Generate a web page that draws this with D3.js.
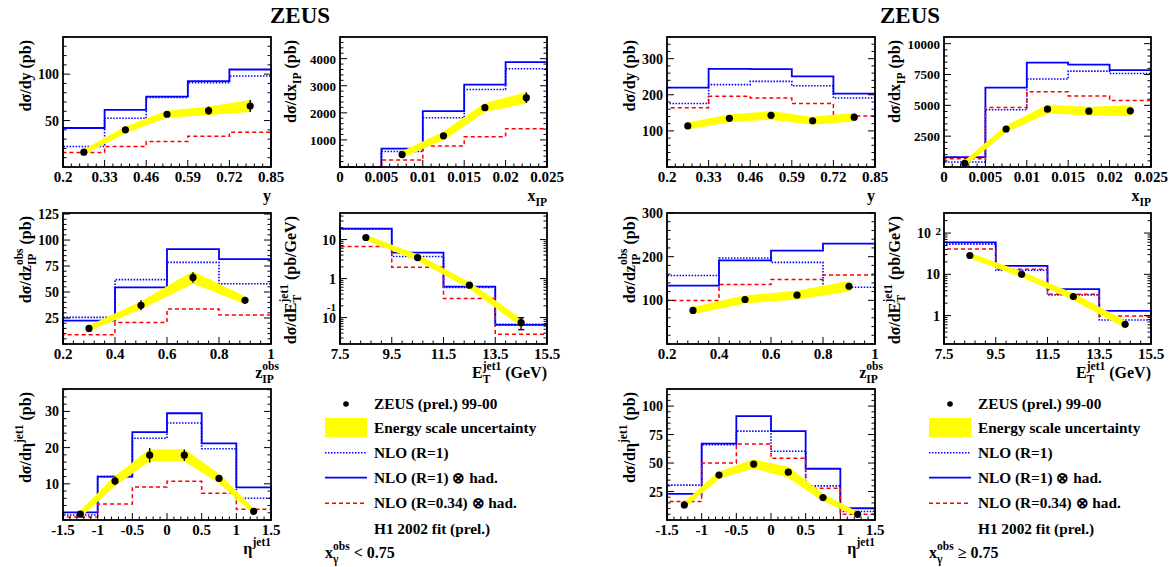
<!DOCTYPE html>
<html>
<head>
<meta charset="utf-8">
<script src="https://cdn.jsdelivr.net/npm/d3@7"></script>
<style>
  body { margin: 0; background: #fff; }
  svg text { font-family: "Liberation Serif", "Times New Roman", serif; font-weight: bold; fill: #000; }
</style>
</head>
<body>
<svg id="chart" width="1174" height="567"></svg>
<script>
// ---- bin edges, point positions, tick labels ----
const yEdges   = [0.2, 0.33, 0.46, 0.59, 0.72, 0.85];
const yCentres = [0.265, 0.395, 0.525, 0.655, 0.785];
const xpEdges  = [0, 0.005, 0.01, 0.015, 0.02, 0.025];
const loXpCentres = [0.0075, 0.0125, 0.0175, 0.0225];
const hiXpCentres = [0.0025, 0.0075, 0.0125, 0.0175, 0.0225];
const zpEdges  = [0.2, 0.4, 0.6, 0.8, 1.0];
const zpCentres = [0.3, 0.5, 0.7, 0.9];
const etEdges  = [7.5, 9.5, 11.5, 13.5, 15.5];
const etCentres = [8.5, 10.5, 12.5, 14.5];
const etaEdges = [-1.5, -1, -0.5, 0, 0.5, 1, 1.5];
const etaCentres = [-1.25, -0.75, -0.25, 0.25, 0.75, 1.25];

const yTicks   = [0.2, 0.33, 0.46, 0.59, 0.72, 0.85];
const xpTicks  = [0, 0.005, 0.01, 0.015, 0.02, 0.025];
const zpTicks  = [0.2, 0.4, 0.6, 0.8, 1];
const etTicks  = [7.5, 9.5, 11.5, 13.5, 15.5];
const etaTicks = [-1.5, -1, -0.5, 0, 0.5, 1, 1.5];

// ---- x_gamma^obs < 0.75 ----
const loY_nlo  = [22, 52.5, 75, 90.7, 98];
const loY_had  = [42, 61.5, 75.7, 92.5, 105];
const loY_r034 = [15.7, 22, 27.5, 33, 37.5];
const loY_data = [16, 40, 56.8, 60.7, 65.7];
const loY_stat = [1, 1.5, 2, 4.5, 6.5];
const loY_esc  = [1, 1.5, 2, 2.7, 4.5];

const loXp_nlo  = [0, 570, 1820, 2860, 3630];
const loXp_had  = [0, 680, 2065, 3040, 3875];
const loXp_r034 = [0, 255, 780, 1120, 1415];
const loXp_data = [460, 1150, 2190, 2560];
const loXp_stat = [40, 60, 80, 200];
const loXp_esc  = [50, 80, 100, 140];

const loZp_nlo  = [25.6, 61.9, 78.5, 58];
const loZp_had  = [22.4, 54.5, 91.3, 81.7];
const loZp_r034 = [9, 20.8, 33.7, 27.9];
const loZp_data = [15, 37.2, 64, 42];
const loZp_stat = [1.5, 4.8, 5, 2];
const loZp_esc  = [1, 2, 4, 2];

const loEt_nlo  = [18.4, 3.67, 0.59, 0.067];
const loEt_had  = [19.1, 4.6, 0.62, 0.065];
const loEt_r034 = [6.6, 1.95, 0.307, 0.0375];
const loEt_data = [11.3, 3.45, 0.675, 0.074];
const loEt_stat = [0.5, 0.2, 0.05, 0.025];
const loEt_esc  = [0.6, 0.25, 0.05, 0.008];

const loEta_nlo  = [1.4, 12, 22.6, 26.8, 19.7, 6.0];
const loEta_had  = [2.1, 12, 24.3, 29.5, 21.2, 9.0];
const loEta_r034 = [0.8, 4.4, 9.1, 10.7, 7.4, 3.0];
const loEta_data = [1.6, 10.8, 17.9, 17.9, 11.5, 2.4];
const loEta_stat = [0.3, 1.2, 2, 1.6, 0.8, 0.3];
const loEta_esc  = [0.3, 0.8, 1.1, 1.2, 0.7, 0.2];

// ---- x_gamma^obs >= 0.75 ----
const hiY_nlo  = [175.8, 228, 237, 225, 191];
const hiY_had  = [220, 272, 271, 251, 203];
const hiY_r034 = [164, 196, 191, 176, 141];
const hiY_data = [113.7, 134.7, 143, 128, 138];
const hiY_stat = [3, 4, 4, 4, 5];
const hiY_esc  = [5, 6, 7, 6, 7];

const hiXp_nlo  = [402, 4636, 7129, 7772, 7584];
const hiXp_had  = [804, 6432, 8469, 8308, 7852];
const hiXp_r034 = [670, 4824, 6110, 5762, 5387];
const hiXp_data = [295, 3082, 4690, 4529, 4556];
const hiXp_stat = [40, 100, 150, 150, 200];
const hiXp_esc  = [60, 120, 200, 215, 290];

const hiZp_nlo  = [156.7, 197, 187, 130];
const hiZp_had  = [133.8, 191.6, 213.7, 229.7];
const hiZp_r034 = [99.6, 136, 147.5, 158];
const hiZp_data = [76.8, 101.9, 111.8, 132.3];
const hiZp_stat = [3, 4, 4, 5];
const hiZp_esc  = [4, 5, 6, 8];

const hiEt_nlo  = [54, 12.5, 3.18, 0.785];
const hiEt_had  = [59.3, 16.1, 4.36, 1.3];
const hiEt_r034 = [41, 13.3, 3.3, 0.98];
const hiEt_data = [28.6, 10, 2.9, 0.616];
const hiEt_stat = [1, 0.4, 0.15, 0.05];
const hiEt_esc  = [1.2, 0.6, 0.25, 0.06];

const hiEta_nlo  = [30.6, 66.2, 78, 60.3, 30, 7.4];
const hiEta_had  = [22.9, 67, 91.2, 78, 45, 10.3];
const hiEta_r034 = [16.2, 50, 66.8, 54.1, 27.9, 5];
const hiEta_data = [13.2, 39.4, 49.1, 42, 19.7, 5];
const hiEta_stat = [1, 1.5, 2, 2, 1, 0.5];
const hiEta_esc  = [0.7, 1.5, 2.5, 3.2, 1.5, 0.5];

const legendLabels = ["ZEUS (prel.) 99-00", "Energy scale uncertainty", "NLO (R=1)",
                      "NLO (R=1) \u2297 had.", "NLO (R=0.34) \u2297 had.", "H1 2002 fit (prel.)"];

// ---- layout ----
const svg = d3.select("#chart");
const colX = [[63, 271], [340, 547]];
const rowY = [[37, 167], [213, 344], [389, 520]];
const panelDx = [0, 604];
const BLUE = "#0000ff", RED = "#ff0000", YELLOW = "#ffff00";

// text with sub/superscripts, parts = [[base, sub, sup], ...]
function rich(parent, x, y, parts, fs, anchor, rotate) {
  const t = parent.append("text").attr("font-size", fs).attr("text-anchor", anchor || "start");
  if (rotate) t.attr("transform", `translate(${x},${y}) rotate(-90)`);
  else t.attr("x", x).attr("y", y);
  let cur = 0, pend = 0;
  const seg = (s, shift, size) => {
    const ts = t.append("tspan").attr("font-size", size).attr("dy", shift - cur).text(s);
    if (pend) { ts.attr("dx", pend); pend = 0; }
    cur = shift;
    return ts;
  };
  parts.forEach(([b, sub, sup]) => {
    if (b) seg(b, 0, fs);
    let sl = 0;
    if (sub) { sl = seg(sub, fs * 0.3, fs * 0.72).node().getComputedTextLength(); }
    if (sup) {
      const s = seg(sup, -fs * 0.5, fs * 0.72);
      if (sub) {
        s.attr("dx", -sl);
        const ul = s.node().getComputedTextLength();
        if (ul < sl) pend = sl - ul;
      }
    }
  });
  return t;
}

function histPath(x, y, edges, vals, ymin) {
  const pts = [[edges[0], ymin]];
  vals.forEach((v, i) => { pts.push([edges[i], v]); pts.push([edges[i + 1], v]); });
  pts.push([edges[edges.length - 1], ymin]);
  return d3.line().x(d => x(d[0])).y(d => y(Math.max(d[1], ymin)))(pts);
}

function drawPlot(p, dx) {
  const [x0, x1] = colX[p.col].map(v => v + dx);
  const [y0, y1] = rowY[p.row];
  const x = d3.scaleLinear().domain(p.xDom).range([x0, x1]);
  const y = (p.log ? d3.scaleLog() : d3.scaleLinear()).domain(p.yDom).range([y1, y0]);
  const g = svg.append("g");
  const ymin = p.yDom[0];

  // theory histograms
  g.append("path").attr("d", histPath(x, y, p.edges, p.nlo, ymin))
    .attr("fill", "none").attr("stroke", BLUE).attr("stroke-width", 1.6).attr("stroke-dasharray", "1.5,1.5");
  g.append("path").attr("d", histPath(x, y, p.edges, p.had, ymin))
    .attr("fill", "none").attr("stroke", BLUE).attr("stroke-width", 1.8);
  g.append("path").attr("d", histPath(x, y, p.edges, p.r034, ymin))
    .attr("fill", "none").attr("stroke", RED).attr("stroke-width", 1.5).attr("stroke-dasharray", "4,3");

  // energy scale band
  const pts = p.data.map((v, i) => ({ x: p.centres[i], v, e: p.esc[i] }));
  g.append("path").datum(pts)
    .attr("d", d3.area().x(d => x(d.x)).y0(d => y(d.v - d.e)).y1(d => y(d.v + d.e)))
    .attr("fill", YELLOW).attr("stroke", YELLOW).attr("stroke-width", 3.5).attr("stroke-linejoin", "round");

  // data points with stat errors
  pts.forEach((d, i) => {
    const s = p.stat[i];
    g.append("line").attr("x1", x(d.x)).attr("x2", x(d.x))
      .attr("y1", y(d.v - s)).attr("y2", y(d.v + s)).attr("stroke", "#000").attr("stroke-width", 1.4);
    if (p.caps) {
      [d.v - s, d.v + s].forEach(e => g.append("line").attr("x1", x(d.x) - 3).attr("x2", x(d.x) + 3)
        .attr("y1", y(e)).attr("y2", y(e)).attr("stroke", "#000").attr("stroke-width", 1.4));
    }
    g.append("circle").attr("cx", x(d.x)).attr("cy", y(d.v)).attr("r", 3.6).attr("fill", "#000");
  });

  // ticks
  const tk = g.append("g").attr("stroke", "#000").attr("stroke-width", 1);
  const yMinor = p.log
    ? d3.range(Math.floor(Math.log10(p.yDom[0])), Math.ceil(Math.log10(p.yDom[1])))
        .flatMap(e => d3.range(1, 10).map(m => m * Math.pow(10, e)))
        .filter(v => v >= p.yDom[0] && v <= p.yDom[1])
    : d3.range(0, p.yDom[1] + 1e-9, p.yMinor);
  yMinor.forEach(v => {
    const major = p.yTicks.some(t => Math.abs(t - v) < 1e-9 * Math.max(1, v));
    const len = major ? 7 : 3.5;
    tk.append("line").attr("x1", x0).attr("x2", x0 + len).attr("y1", y(v)).attr("y2", y(v));
    tk.append("line").attr("x1", x1).attr("x2", x1 - len).attr("y1", y(v)).attr("y2", y(v));
  });
  d3.range(p.xDom[0], p.xDom[1] + 1e-9, p.xMinor).forEach(v => {
    const major = p.xTicks.some(t => Math.abs(t - v) < 1e-9);
    const len = major ? 7 : 3.5;
    tk.append("line").attr("x1", x(v)).attr("x2", x(v)).attr("y1", y1).attr("y2", y1 - len);
  });

  // frame
  g.append("rect").attr("x", x0).attr("y", y0).attr("width", x1 - x0).attr("height", y1 - y0)
    .attr("fill", "none").attr("stroke", "#000").attr("stroke-width", 1.8);

  // tick labels
  p.xTicks.forEach(v => {
    g.append("text").attr("x", x(v)).attr("y", y1 + 15).attr("text-anchor", "middle")
      .attr("font-size", 15).text(String(v));
  });
  p.yTicks.forEach(v => {
    if (p.logLabel) { p.logLabel(g, v, x0, y(v)); return; }
    g.append("text").attr("x", x0 - 4).attr("y", y(v) + 5).attr("text-anchor", "end")
      .attr("font-size", p.yFont || 14).text(String(v));
  });

  // axis titles
  rich(g, x1 + (p.xTitleDx || 0), y1 + 34, p.xTitle, 16, "end");
  rich(g, x0 - (p.col === 0 ? 32 : 44), y0 + 3, p.yTitle, 16, "end", true);
}

// log-axis labels in the ROOT style
function lowLog(g, v, x0, yy) {
  if (v === 0.1) {
    g.append("text").attr("x", x0 - 4).attr("y", yy + 5).attr("text-anchor", "end").attr("font-size", 14).text("10");
    g.append("text").attr("x", x0 - 4).attr("y", yy - 7).attr("text-anchor", "end").attr("font-size", 11).text("-1");
  } else {
    g.append("text").attr("x", x0 - 4).attr("y", yy + 5).attr("text-anchor", "end").attr("font-size", 14).text(String(v));
  }
}
function highLog(g, v, x0, yy) {
  if (v === 100) {
    g.append("text").attr("x", x0 - 13).attr("y", yy + 5).attr("text-anchor", "end").attr("font-size", 14).text("10");
    g.append("text").attr("x", x0 - 3).attr("y", yy + 2).attr("text-anchor", "end").attr("font-size", 11).text("2");
  } else {
    g.append("text").attr("x", x0 - 4).attr("y", yy + 5).attr("text-anchor", "end").attr("font-size", 14).text(String(v));
  }
}

const titleY   = [["d\u03c3/dy (pb)"]];
const titleXp  = [["d\u03c3/dx", "IP"], [" (pb)"]];
const titleZp  = [["d\u03c3/dz", "IP", "obs"], [" (pb)"]];
const titleEt  = [["d\u03c3/dE", "T", "jet1"], [" (pb/GeV)"]];
const titleEta = [["d\u03c3/d\u03b7", null, "jet1"], [" (pb)"]];

const lowPlots = [
  { col: 0, row: 0, xDom: [0.2, 0.85], yDom: [0, 140], edges: yEdges, centres: yCentres,
    nlo: loY_nlo, had: loY_had, r034: loY_r034, data: loY_data, stat: loY_stat, esc: loY_esc,
    xTicks: yTicks, xMinor: 0.026, yTicks: [50, 100], yMinor: 10, xTitle: [["y"]], yTitle: titleY },
  { col: 1, row: 0, xDom: [0, 0.025], yDom: [0, 4800], edges: xpEdges, centres: loXpCentres,
    nlo: loXp_nlo, had: loXp_had, r034: loXp_r034, data: loXp_data, stat: loXp_stat, esc: loXp_esc,
    xTicks: xpTicks, xMinor: 0.001, yTicks: [1000, 2000, 3000, 4000], yMinor: 200, yFont: 13,
    xTitle: [["x", "IP"]], yTitle: titleXp },
  { col: 0, row: 1, xDom: [0.2, 1], yDom: [0, 126], edges: zpEdges, centres: zpCentres,
    nlo: loZp_nlo, had: loZp_had, r034: loZp_r034, data: loZp_data, stat: loZp_stat, esc: loZp_esc,
    xTicks: zpTicks, xMinor: 0.04, yTicks: [25, 50, 75, 100, 125], yMinor: 5,
    xTitle: [["z", "IP", "obs"]], xTitleDx: 8, yTitle: titleZp },
  { col: 1, row: 1, xDom: [7.5, 15.5], yDom: [0.021, 48], log: true, caps: true, edges: etEdges, centres: etCentres,
    nlo: loEt_nlo, had: loEt_had, r034: loEt_r034, data: loEt_data, stat: loEt_stat, esc: loEt_esc,
    xTicks: etTicks, xMinor: 0.4, yTicks: [0.1, 1, 10], logLabel: lowLog,
    xTitle: [["E", "T", "jet1"], ["  (GeV)"]], yTitle: titleEt },
  { col: 0, row: 2, xDom: [-1.5, 1.5], yDom: [0, 36.2], edges: etaEdges, centres: etaCentres,
    nlo: loEta_nlo, had: loEta_had, r034: loEta_r034, data: loEta_data, stat: loEta_stat, esc: loEta_esc,
    xTicks: etaTicks, xMinor: 0.1, yTicks: [10, 20, 30], yMinor: 2,
    xTitle: [["\u03b7", null, "jet1"]], yTitle: titleEta }
];

const highPlots = [
  { col: 0, row: 0, xDom: [0.2, 0.85], yDom: [0, 360], edges: yEdges, centres: yCentres,
    nlo: hiY_nlo, had: hiY_had, r034: hiY_r034, data: hiY_data, stat: hiY_stat, esc: hiY_esc,
    xTicks: yTicks, xMinor: 0.026, yTicks: [100, 200, 300], yMinor: 20, xTitle: [["y"]], yTitle: titleY },
  { col: 1, row: 0, xDom: [0, 0.025], yDom: [0, 10540], edges: xpEdges, centres: hiXpCentres,
    nlo: hiXp_nlo, had: hiXp_had, r034: hiXp_r034, data: hiXp_data, stat: hiXp_stat, esc: hiXp_esc,
    xTicks: xpTicks, xMinor: 0.001, yTicks: [2500, 5000, 7500, 10000], yMinor: 500, yFont: 13,
    xTitle: [["x", "IP"]], yTitle: titleXp },
  { col: 0, row: 1, xDom: [0.2, 1], yDom: [0, 300], edges: zpEdges, centres: zpCentres,
    nlo: hiZp_nlo, had: hiZp_had, r034: hiZp_r034, data: hiZp_data, stat: hiZp_stat, esc: hiZp_esc,
    xTicks: zpTicks, xMinor: 0.04, yTicks: [100, 200, 300], yMinor: 20,
    xTitle: [["z", "IP", "obs"]], xTitleDx: 8, yTitle: titleZp },
  { col: 1, row: 1, xDom: [7.5, 15.5], yDom: [0.205, 306], log: true, edges: etEdges, centres: etCentres,
    nlo: hiEt_nlo, had: hiEt_had, r034: hiEt_r034, data: hiEt_data, stat: hiEt_stat, esc: hiEt_esc,
    xTicks: etTicks, xMinor: 0.4, yTicks: [1, 10, 100], logLabel: highLog,
    xTitle: [["E", "T", "jet1"], ["  (GeV)"]], yTitle: titleEt },
  { col: 0, row: 2, xDom: [-1.5, 1.5], yDom: [0, 115], edges: etaEdges, centres: etaCentres,
    nlo: hiEta_nlo, had: hiEta_had, r034: hiEta_r034, data: hiEta_data, stat: hiEta_stat, esc: hiEta_esc,
    xTicks: etaTicks, xMinor: 0.1, yTicks: [25, 50, 75, 100], yMinor: 5,
    xTitle: [["\u03b7", null, "jet1"]], yTitle: titleEta }
];

function drawLegend(dx, cut) {
  const g = svg.append("g");
  const rows = [404, 428, 452.7, 477.7, 503.3, 529];
  const lx0 = 325 + dx, lx1 = 367 + dx, tx = 374 + dx;
  g.append("circle").attr("cx", 346 + dx).attr("cy", rows[0]).attr("r", 2.8).attr("fill", "#000");
  g.append("rect").attr("x", lx0).attr("y", 418).attr("width", lx1 - lx0).attr("height", 19).attr("fill", YELLOW);
  g.append("line").attr("x1", lx0).attr("x2", lx1).attr("y1", rows[2]).attr("y2", rows[2])
    .attr("stroke", BLUE).attr("stroke-width", 1.6).attr("stroke-dasharray", "1.5,1.5");
  g.append("line").attr("x1", lx0).attr("x2", lx1).attr("y1", rows[3]).attr("y2", rows[3])
    .attr("stroke", BLUE).attr("stroke-width", 1.8);
  g.append("line").attr("x1", lx0).attr("x2", lx1).attr("y1", rows[4]).attr("y2", rows[4])
    .attr("stroke", RED).attr("stroke-width", 1.5).attr("stroke-dasharray", "4,3");
  legendLabels.forEach((s, i) => {
    g.append("text").attr("x", tx).attr("y", rows[i] + 5).attr("font-size", 15.3).text(s);
  });
  rich(g, 325 + dx, 558, [["x", "\u03b3", "obs"], [cut]], 16, "start");
}

[[lowPlots, " < 0.75"], [highPlots, " \u2265 0.75"]].forEach(([plots, cut], k) => {
  const dx = panelDx[k];
  plots.forEach(p => drawPlot(p, dx));
  drawLegend(dx, cut);
});

svg.append("text").attr("x", 300).attr("y", 23).attr("text-anchor", "middle").attr("font-size", 23).text("ZEUS");
svg.append("text").attr("x", 910).attr("y", 23).attr("text-anchor", "middle").attr("font-size", 23).text("ZEUS");
</script>
</body>
</html>
